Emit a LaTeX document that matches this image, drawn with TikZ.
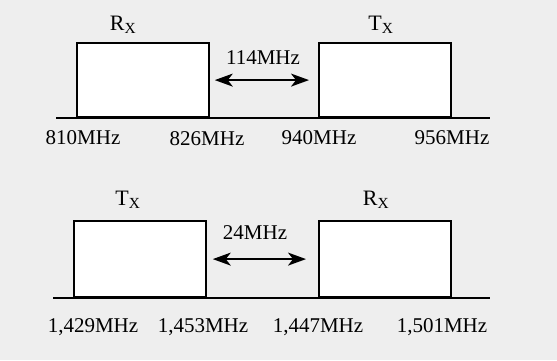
\documentclass[tikz,border=0pt]{standalone}
\usepackage{fontspec}
\setmainfont{Liberation Serif}
\usepackage{tikz}
\usetikzlibrary{arrows.meta, positioning}
\definecolor{pagecolor}{RGB}{238, 238, 238}

\tikzset{
    band/.style={draw, fill=white, line width=1.8pt, minimum width=132pt, anchor=south west, inner sep=0pt},
    freq/.style={font=\fontsize{21}{25}\selectfont, inner sep=1pt},
    chan/.style={font=\fontsize{22}{26}\selectfont, inner sep=1pt},
    gap/.style={>={Stealth[length=18pt,width=13pt,inset=5pt]}, <->, line width=1.6pt}
}

\begin{document}
\begin{tikzpicture}[x=1pt, y=1pt]
\fill[pagecolor] (0,0) rectangle (557,360);
\useasboundingbox (0,0) rectangle (557,360);

% upper pair
\coordinate (axisAl) at (56,242);
\coordinate (axisAr) at (490,242);
\draw[line width=1.8pt] (axisAl) -- (axisAr);
\node[band, minimum height=74pt] (rxA) at (76,242) {};
\node[band, minimum height=74pt] (txA) at (318,242) {};
\node[chan] (rxAlabel) at (123,335) {R\textsubscript{X}};
\node[chan] (txAlabel) at (381,335) {T\textsubscript{X}};
\draw[gap] ([xshift=5pt]rxA.east) -- ([xshift=-9pt]txA.west);
\node[freq] (sepA) at (263,302) {114MHz};
\node[freq] (fA1) at (83,222) {810MHz};
\node[freq] (fA2) at (207,221) {826MHz};
\node[freq] (fA3) at (319,222) {940MHz};
\node[freq] (fA4) at (452,222) {956MHz};

% lower pair
\coordinate (axisBl) at (53,62);
\coordinate (axisBr) at (490,62);
\draw[line width=1.8pt] (axisBl) -- (axisBr);
\node[band, minimum height=76pt] (txB) at (73,62) {};
\node[band, minimum height=76pt] (rxB) at (318,62) {};
\node[chan] (txBlabel) at (128,160) {T\textsubscript{X}};
\node[chan] (rxBlabel) at (376,160) {R\textsubscript{X}};
\draw[gap] ([xshift=6pt]txB.east) -- ([xshift=-12pt]rxB.west);
\node[freq] (sepB) at (255,127) {24MHz};
\node[freq] (fB1) at (93,33) {1,429MHz};
\node[freq] (fB2) at (203,33) {1,453MHz};
\node[freq] (fB3) at (318,33) {1,447MHz};
\node[freq] (fB4) at (442,33) {1,501MHz};
\end{tikzpicture}
\end{document}
